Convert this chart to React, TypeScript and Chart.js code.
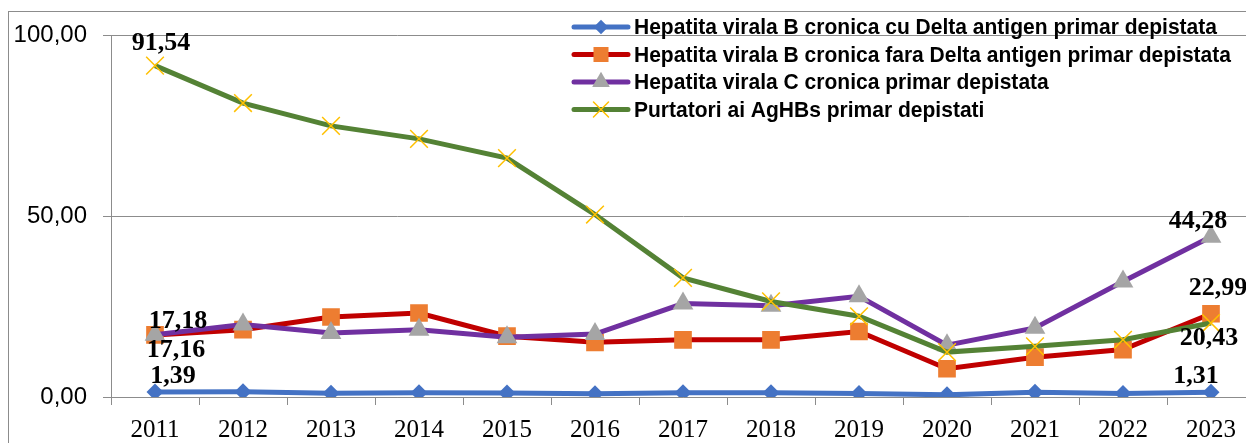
import React, { useEffect, useRef } from "react";
import { Chart, registerables } from "chart.js";

Chart.register(...registerables);

const categories = ["2011", "2012", "2013", "2014", "2015", "2016", "2017", "2018", "2019", "2020", "2021", "2022", "2023"];
const deltaB = [1.39, 1.45, 1.05, 1.2, 1.1, 0.9, 1.2, 1.2, 1.0, 0.6, 1.3, 1.0, 1.31];
const faraDeltaB = [17.16, 18.6, 22.1, 23.2, 16.8, 15.1, 15.8, 15.8, 18.1, 7.8, 11.0, 13.1, 22.99];
const hepC = [17.18, 20.0, 17.7, 18.6, 16.5, 17.4, 25.8, 25.2, 27.8, 14.3, 19.1, 31.9, 44.28];
const purtatori = [91.54, 81.2, 74.9, 71.3, 66.0, 50.4, 32.9, 26.4, 22.3, 12.4, 14.0, 15.8, 20.43];
const seriesNames = [
  "Hepatita virala B cronica cu Delta antigen primar depistata",
  "Hepatita virala B cronica fara Delta antigen primar depistata",
  "Hepatita virala C cronica primar depistata",
  "Purtatori ai AgHBs primar depistati",
];
const yTicks = [0, 50, 100];

const lineColors = ["#4472C4", "#C00000", "#7030A0", "#548235"];
const markerColors = ["#4472C4", "#ED7D31", "#A5A5A5", "#FFC000"];
const markerStyles = ["rectRot", "rect", "triangle", "crossRot"];
const markerRadius = [8.5, 12.5, 12, 12.5];

// data label placement (dataset index, point index, pixel offset of label centre)
const dataLabels = [
  { ds: 3, i: 0, dx: 6, dy: -22 },
  { ds: 2, i: 0, dx: 23, dy: -14 },
  { ds: 1, i: 0, dx: 21, dy: 15 },
  { ds: 0, i: 0, dx: 18, dy: -16 },
  { ds: 2, i: 12, dx: -13, dy: -15 },
  { ds: 1, i: 12, dx: 7, dy: -25 },
  { ds: 3, i: 12, dx: -2, dy: 15 },
  { ds: 0, i: 12, dx: -15, dy: -16 },
];

const fmt = (v: number) => v.toFixed(2).replace(".", ",");

function drawMarker(ctx: CanvasRenderingContext2D, style: string, x: number, y: number, r: number, color: string) {
  ctx.save();
  ctx.fillStyle = color;
  ctx.strokeStyle = color;
  ctx.beginPath();
  if (style === "rectRot") {
    ctx.moveTo(x, y - r);
    ctx.lineTo(x + r, y);
    ctx.lineTo(x, y + r);
    ctx.lineTo(x - r, y);
    ctx.closePath();
    ctx.fill();
  } else if (style === "rect") {
    const s = r * Math.SQRT1_2;
    ctx.rect(x - s, y - s, 2 * s, 2 * s);
    ctx.fill();
  } else if (style === "triangle") {
    ctx.moveTo(x, y - r);
    ctx.lineTo(x + r * 0.866, y + r * 0.5);
    ctx.lineTo(x - r * 0.866, y + r * 0.5);
    ctx.closePath();
    ctx.fill();
  } else {
    const o = r * Math.SQRT1_2;
    ctx.lineWidth = 1.5;
    ctx.moveTo(x - o, y - o);
    ctx.lineTo(x + o, y + o);
    ctx.moveTo(x - o, y + o);
    ctx.lineTo(x + o, y - o);
    ctx.stroke();
  }
  ctx.restore();
}

const decorPlugin = {
  id: "decor",
  beforeDraw(chart: any) {
    const ctx = chart.ctx as CanvasRenderingContext2D;
    ctx.save();
    ctx.fillStyle = "#ffffff";
    ctx.fillRect(0, 0, chart.width, chart.height);
    ctx.strokeStyle = "#8c8c8c";
    ctx.lineWidth = 1;
    ctx.strokeRect(8.5, 11.5, chart.width + 50, chart.height + 50);
    ctx.restore();
  },
  afterDatasetsDraw(chart: any) {
    const ctx = chart.ctx as CanvasRenderingContext2D;
    ctx.save();
    ctx.font = 'bold 26px "Liberation Serif", "Times New Roman", serif';
    ctx.fillStyle = "#000000";
    ctx.textAlign = "center";
    ctx.textBaseline = "middle";
    dataLabels.forEach((l) => {
      const pt = chart.getDatasetMeta(l.ds).data[l.i];
      const v = chart.data.datasets[l.ds].data[l.i] as number;
      ctx.fillText(fmt(v), pt.x + l.dx, pt.y + l.dy);
    });
    ctx.restore();
  },
  afterDraw(chart: any) {
    const ctx = chart.ctx as CanvasRenderingContext2D;
    ctx.save();
    const x0 = 574;
    const x1 = 628;
    const tx = 634;
    const rowY = [27, 54.5, 82, 109.5];
    ctx.font = 'bold 22.5px "Liberation Sans Narrow", "Liberation Sans", sans-serif';
    const natural = ctx.measureText(seriesNames[1]).width;
    const sx = 597 / natural;
    seriesNames.forEach((name, k) => {
      const y = rowY[k];
      ctx.strokeStyle = lineColors[k];
      ctx.lineWidth = 5;
      ctx.lineCap = "round";
      ctx.beginPath();
      ctx.moveTo(x0, y);
      ctx.lineTo(x1, y);
      ctx.stroke();
      drawMarker(ctx, markerStyles[k], (x0 + x1) / 2, y, markerRadius[k] * 0.85, markerColors[k]);
      ctx.save();
      ctx.translate(tx, y);
      ctx.scale(sx, 1);
      ctx.fillStyle = "#000000";
      ctx.textAlign = "left";
      ctx.textBaseline = "middle";
      ctx.fillText(name, 0, 1);
      ctx.restore();
    });
    ctx.restore();
  },
};

export default function App() {
  const canvasRef = useRef<HTMLCanvasElement | null>(null);

  useEffect(() => {
    const canvas = canvasRef.current;
    if (!canvas) return;
    const series = [deltaB, faraDeltaB, hepC, purtatori];
    const chart = new Chart(canvas, {
      type: "line",
      data: {
        labels: categories,
        datasets: series.map((d, k) => ({
          label: seriesNames[k],
          data: d,
          borderColor: lineColors[k],
          backgroundColor: markerColors[k],
          borderWidth: 5,
          pointStyle: markerStyles[k] as any,
          pointRadius: markerRadius[k],
          pointBackgroundColor: markerColors[k],
          pointBorderColor: markerColors[k],
          pointBorderWidth: k === 3 ? 1.5 : 0,
          tension: 0,
          fill: false,
          order: 4 - k,
        })),
      },
      options: {
        responsive: false,
        devicePixelRatio: 1,
        animation: false,
        layout: { padding: { left: 0, right: 15, top: 35, bottom: 0 } },
        plugins: {
          legend: { display: false },
          tooltip: { enabled: false },
        },
        scales: {
          x: {
            type: "category",
            offset: true,
            afterFit: (s: any) => {
              s.height = 46;
            },
            grid: {
              offset: true,
              drawOnChartArea: false,
              drawTicks: true,
              tickLength: 8,
              color: "#8c8c8c",
              lineWidth: 1,
            },
            border: { display: true, color: "#8c8c8c", width: 1 },
            ticks: {
              color: "#000000",
              font: { family: '"Liberation Serif", "Times New Roman", serif', size: 25 },
              padding: 10,
              maxRotation: 0,
              autoSkip: false,
            },
          },
          y: {
            min: 0,
            max: 100,
            afterFit: (s: any) => {
              s.width = 111;
            },
            afterBuildTicks: (s: any) => {
              s.ticks = yTicks.map((v) => ({ value: v }));
            },
            grid: {
              color: "#8c8c8c",
              lineWidth: 1,
              tickLength: 8,
              drawTicks: true,
            },
            border: { display: true, color: "#8c8c8c", width: 1 },
            ticks: {
              color: "#000000",
              font: { family: '"Liberation Sans", Arial, sans-serif', size: 24 },
              padding: 16,
              callback: (v: any) => fmt(Number(v)),
            },
          },
        },
      },
      plugins: [decorPlugin],
    });
    return () => chart.destroy();
  }, []);

  return (
    <div
      style={{
        position: "fixed",
        left: 0,
        top: 0,
        width: 1246,
        height: 443,
        overflow: "hidden",
        background: "#ffffff",
      }}
    >
      <canvas ref={canvasRef} width={1270} height={443} style={{ display: "block", width: 1270, height: 443 }} />
    </div>
  );
}
